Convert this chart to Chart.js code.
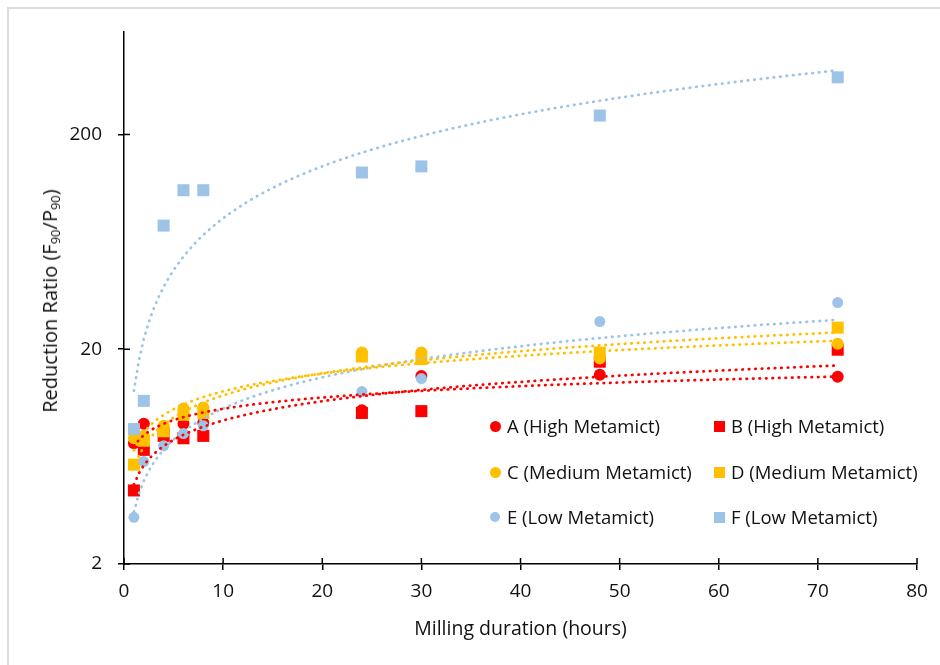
<!DOCTYPE html>
<html>
<head>
<meta charset="utf-8">
<script src="https://cdn.jsdelivr.net/npm/chart.js@4.4.0/dist/chart.umd.min.js"></script>
<style>
    body { margin: 0; background: #fff; overflow: hidden; }
    #wrap { position: relative; width: 940px; height: 665px; overflow: hidden; }
    #frame { position: absolute; left: 7px; top: 7px; width: 1000px; height: 1000px; border: 2px solid #dcdcdc; }
    #myChart { position: absolute; left: 0; top: 0; }
    .ytitle {
        position: absolute; left: 50px; top: 301px;
        transform: translate(-50%, -50%) rotate(-90deg);
        font-family: "Open Sans", sans-serif; font-size: 20px; color: #111; white-space: nowrap;
    }
    .ytitle sub { font-size: 13px; vertical-align: -3px; }
    .legend-item {
        position: absolute; font-family: "Open Sans", sans-serif; font-size: 18.5px; color: #111;
        white-space: nowrap; line-height: 24px; transform: translateY(-50%);
    }
    .mark { position: absolute; }
</style>
</head>
<body>
<div id="wrap">
    <div id="frame"></div>
    <canvas id="myChart" width="940" height="665"></canvas>
    <div class="ytitle">Reduction Ratio (F<sub>90</sub>/P<sub>90</sub>)</div>
    <div id="legend"></div>
</div>
<script>
// milling time (hours) and reduction ratio F90/P90 for each sample
const hours = [1, 2, 4, 6, 8, 24, 30, 48, 72];
const seriesA = [7.3, 9.0, 8.5, 9.0, 9.1, 10.4, 15.0, 15.2, 14.9];
const seriesB = [4.4, 6.8, 7.9, 7.7, 7.9, 10.1, 10.3, 17.5, 19.9];
const seriesC = [7.7, 7.9, 8.8, 10.6, 10.7, 19.3, 19.3, 18.1, 21.2];
const seriesD = [5.8, 7.5, 8.3, 9.9, 10.1, 18.5, 18.0, 19.3, 25.2];
const seriesE = [3.3, 6.0, 7.1, 8.1, 8.8, 12.7, 14.6, 26.9, 33.0];
const seriesF = [8.5, 11.5, 75.3, 110, 110, 133, 142, 245, 369];

const seriesNames = ['A (High Metamict)', 'B (High Metamict)', 'C (Medium Metamict)',
    'D (Medium Metamict)', 'E (Low Metamict)', 'F (Low Metamict)'];
const yTicks = [2, 20, 200];

const red = '#FF0000';
const yellow = '#FFC000';
const blue = '#9DC3E6';
const textColor = '#111';

// power trendline (same as excel): ln y = b ln x + ln a
function powerFit(xs, ys) {
    const lx = xs.map(Math.log);
    const ly = ys.map(Math.log);
    const n = xs.length;
    const mx = lx.reduce((s, v) => s + v, 0) / n;
    const my = ly.reduce((s, v) => s + v, 0) / n;
    let sxy = 0, sxx = 0;
    for (let i = 0; i < n; i++) {
        sxy += (lx[i] - mx) * (ly[i] - my);
        sxx += (lx[i] - mx) * (lx[i] - mx);
    }
    const b = sxy / sxx;
    const a = Math.exp(my - b * mx);
    return { a, b };
}

function trendPoints(ys) {
    const fit = powerFit(hours, ys);
    const pts = [];
    const x0 = hours[0], x1 = hours[hours.length - 1];
    for (let x = x0; x <= x1 + 1e-9; x += 0.5) {
        pts.push({ x: x, y: fit.a * Math.pow(x, fit.b) });
    }
    return pts;
}

const toXY = ys => hours.map((h, i) => ({ x: h, y: ys[i] }));

const series = [
    { data: seriesA, color: red, style: 'circle', r: 6 },
    { data: seriesB, color: red, style: 'rect', r: 8.5 },
    { data: seriesC, color: yellow, style: 'circle', r: 6 },
    { data: seriesD, color: yellow, style: 'rect', r: 8.5 },
    { data: seriesE, color: blue, style: 'circle', r: 5.5 },
    { data: seriesF, color: blue, style: 'rect', r: 8.5 }
];

const datasets = [];
series.forEach((s, i) => {
    datasets.push({
        label: seriesNames[i],
        data: toXY(s.data),
        pointStyle: s.style,
        pointRadius: s.r,
        pointHoverRadius: s.r,
        backgroundColor: s.color,
        borderColor: s.color,
        pointBorderWidth: 0,
        showLine: false,
        order: 6 - i
    });
});
series.forEach((s, i) => {
    datasets.push({
        label: seriesNames[i] + ' trend',
        data: trendPoints(s.data),
        showLine: true,
        pointRadius: 0,
        borderColor: s.color,
        borderWidth: 2.75,
        borderDash: [0.5, 6],
        borderCapStyle: 'round',
        fill: false,
        tension: 0,
        order: 0
    });
});

// excel style tick marks that cross the axis line
const crossTicks = {
    id: 'crossTicks',
    afterDraw(chart) {
        const ctx = chart.ctx;
        const area = chart.chartArea;
        ctx.save();
        ctx.strokeStyle = '#000';
        ctx.lineWidth = 1.5;
        chart.scales.x.ticks.forEach(t => {
            const px = chart.scales.x.getPixelForValue(t.value);
            ctx.beginPath();
            ctx.moveTo(px, area.bottom);
            ctx.lineTo(px, area.bottom - 6);
            ctx.stroke();
        });
        chart.scales.y.ticks.forEach(t => {
            const py = chart.scales.y.getPixelForValue(t.value);
            ctx.beginPath();
            ctx.moveTo(area.left, py);
            ctx.lineTo(area.left + 6, py);
            ctx.stroke();
        });
        ctx.restore();
    }
};

const ctx = document.getElementById('myChart').getContext('2d');
const myChart = new Chart(ctx, {
    type: 'scatter',
    data: { datasets: datasets },
    options: {
        responsive: false,
        animation: false,
        devicePixelRatio: 1,
        layout: { padding: { left: 0, right: 23, top: 32, bottom: 20 } },
        plugins: {
            legend: { display: false },
            tooltip: { enabled: false }
        },
        scales: {
            x: {
                type: 'linear',
                min: 0,
                max: 80,
                ticks: {
                    stepSize: 10,
                    color: textColor,
                    padding: 10,
                    font: { family: 'Open Sans', size: 19 }
                },
                grid: { drawOnChartArea: false, tickLength: 6, color: '#000', lineWidth: 1.5 },
                border: { color: '#000', width: 1.5 },
                title: {
                    display: true,
                    text: 'Milling duration (hours)',
                    color: textColor,
                    font: { family: 'Open Sans', size: 19.5 }
                },
                afterFit: scale => { scale.height = 81; }
            },
            y: {
                type: 'logarithmic',
                min: 2,
                max: 600,
                afterBuildTicks: scale => {
                    scale.ticks = yTicks.map(v => ({ value: v }));
                },
                ticks: {
                    color: textColor,
                    padding: 16,
                    font: { family: 'Open Sans', size: 19 },
                    callback: v => String(v)
                },
                grid: { drawOnChartArea: false, tickLength: 6, color: '#000', lineWidth: 1.5 },
                border: { color: '#000', width: 1.5 },
                afterFit: scale => { scale.width = 124; }
            }
        }
    },
    plugins: [crossTicks]
});

// legend laid out inside the plot, two columns
const legendPos = [
    [495, 426], [719, 426],
    [495, 472], [719, 472],
    [495, 517], [719, 517]
];
const legend = document.getElementById('legend');
series.forEach((s, i) => {
    const [cx, cy] = legendPos[i];
    const size = s.style === 'circle' ? (s.r === 6 ? 11 : 10) : 11;
    const m = document.createElement('div');
    m.className = 'mark';
    m.style.left = (cx - size / 2) + 'px';
    m.style.top = (cy - size / 2) + 'px';
    m.style.width = size + 'px';
    m.style.height = size + 'px';
    m.style.background = s.color;
    if (s.style === 'circle') m.style.borderRadius = '50%';
    legend.appendChild(m);

    const t = document.createElement('div');
    t.className = 'legend-item';
    t.style.left = (cx + 12) + 'px';
    t.style.top = cy + 'px';
    t.textContent = seriesNames[i];
    legend.appendChild(t);
});
</script>
</body>
</html>
